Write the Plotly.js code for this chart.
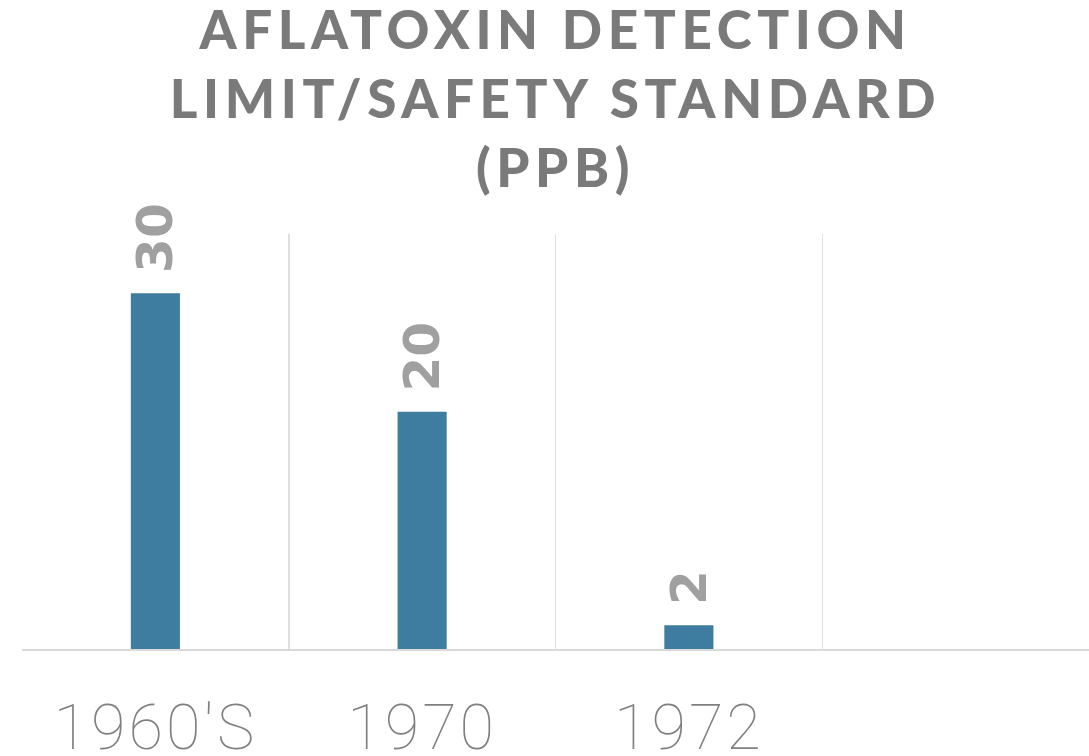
<!DOCTYPE html>
<html><head><meta charset="utf-8">
<script src="https://cdn.plot.ly/plotly-3.0.1.min.js"></script>
<style>html,body{margin:0;padding:0;background:#fff}#chart{width:1089px;height:756px}
.gtitle{letter-spacing:5.6px}
.xtick text{letter-spacing:3px}
</style>
</head><body><div id="chart"></div>
<script>
var categories = ["1960'S", "1970", "1972"];
var values = [30, 20, 2];
var labels = ["30", "20", "2"];
var titleText = "AFLATOXIN DETECTION<br>LIMIT/SAFETY STANDARD<br>(PPB)";

var trace = {
  type: 'bar', x: categories, y: values, text: labels,
  texttemplate: '\u00A0%{text}',
  textposition: 'outside', textangle: -90, cliponaxis: false, constraintext: 'none',
  textfont: {family: 'DejaVu Sans', size: 50, color: '#a0a0a0', weight: 'bold'},
  marker: {color: '#3e7ca0'}, hoverinfo: 'none'
};
var layout = {
  width: 1089, height: 756,
  margin: {l: 22, r: 0, t: 234, b: 107},
  paper_bgcolor: '#fff', plot_bgcolor: '#fff',
  showlegend: false, bargap: 0.816,
  title: {text: titleText, x: 0.5, xref: 'paper', y: 0.935, yref: 'container', yanchor: 'top',
    font: {family: 'Lato', size: 53, color: '#7a7a7a', weight: 900}},
  xaxis: {type: 'category', range: [-0.5, 3.5], tickson: 'boundaries',
    showgrid: true, gridcolor: '#e0e0e0', gridwidth: 1.5,
    showline: true, linecolor: '#d9d9d9', linewidth: 2,
    ticks: '', ticklabelstandoff: 22,
    tickfont: {family: 'Roboto', size: 63, color: '#808080', weight: 100}},
  yaxis: {range: [0, 35], showgrid: false, zeroline: false, showticklabels: false, showline: false}
};
Plotly.newPlot('chart', [trace], layout, {staticPlot: true});
</script></body></html>
